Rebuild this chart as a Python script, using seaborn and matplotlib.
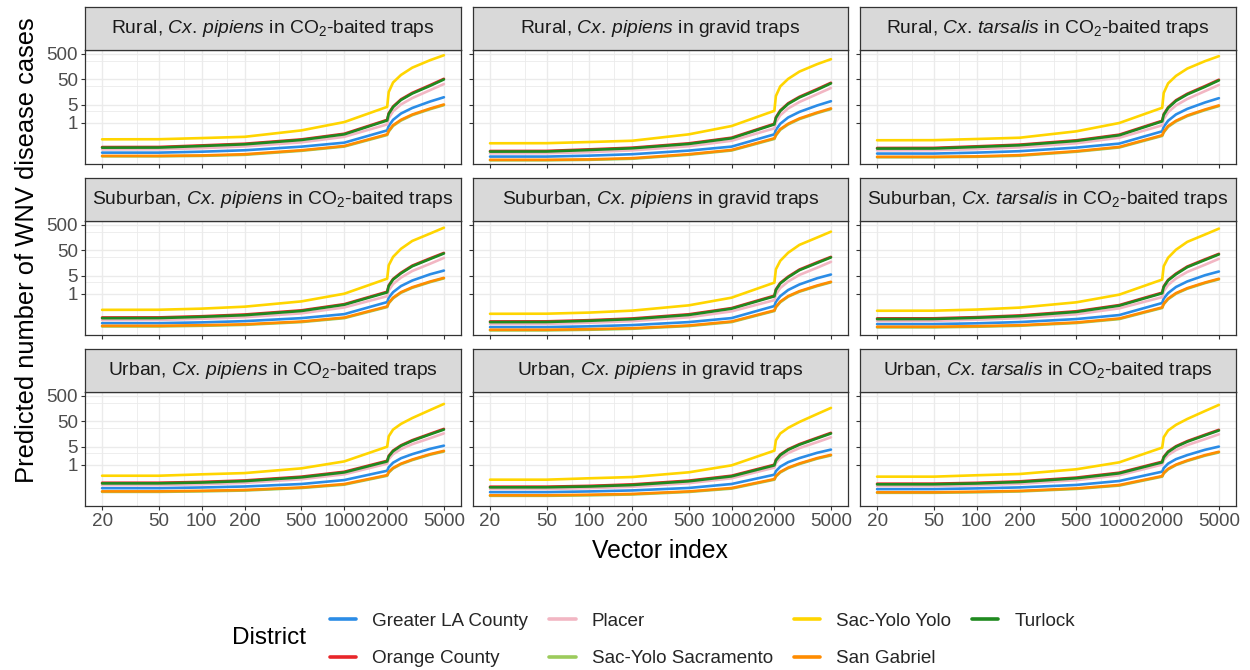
import matplotlib
matplotlib.use("Agg")
import matplotlib.pyplot as plt
import numpy as np
import pandas as pd
import seaborn as sns
from matplotlib.lines import Line2D
from matplotlib.ticker import FixedLocator, NullFormatter, FixedFormatter

# ---------------- data ----------------
X_NODES = [20, 50, 100, 200, 500, 1000, 2000, 2050, 2200, 2500, 3000, 4000, 5000]

DISTRICTS = ["Greater LA County", "Orange County", "Placer", "Sac-Yolo Sacramento",
             "Sac-Yolo Yolo", "San Gabriel", "Turlock"]
COLORS = ["#2B8CE6", "#E8262A", "#F2B6C3", "#9CCB5C", "#FFD500", "#FF8C00", "#1F8A1F"]

LAND_USE = ["Rural", "Suburban", "Urban"]
TRAP_LABELS = [r"$\mathit{Cx.\,pipiens}$ in CO$_2$-baited traps",
               r"$\mathit{Cx.\,pipiens}$ in gravid traps",
               r"$\mathit{Cx.\,tarsalis}$ in CO$_2$-baited traps"]
COLUMN_FACTOR = [1.00, 0.70, 0.92]

# Rural
RURAL_GLA = [0.067, 0.067, 0.073, 0.083, 0.115, 0.165, 0.50, 0.75, 1.3, 2.3, 3.8, 6.8, 10.0]
RURAL_OC = [0.111, 0.112, 0.129, 0.150, 0.222, 0.37, 1.30, 2.35, 4.35, 8.3, 14.9, 30.0, 53.0]
RURAL_PLA = [0.090, 0.091, 0.100, 0.118, 0.170, 0.28, 0.86, 1.5, 2.8, 5.2, 9.3, 19.0, 33.0]
RURAL_SYS = [0.048, 0.048, 0.050, 0.055, 0.079, 0.116, 0.33, 0.45, 0.75, 1.22, 1.98, 3.4, 4.9]
RURAL_SYY = [0.223, 0.225, 0.25, 0.28, 0.50, 1.06, 4.2, 16, 38, 75, 145, 285, 445]
RURAL_SG = [0.050, 0.050, 0.052, 0.058, 0.083, 0.122, 0.35, 0.48, 0.80, 1.30, 2.1, 3.6, 5.2]
RURAL_TUR = [0.105, 0.106, 0.122, 0.142, 0.21, 0.35, 1.23, 2.2, 4.1, 7.8, 14.0, 28.0, 50.0]

# Suburban
SUB_GLA = [0.070, 0.070, 0.075, 0.084, 0.110, 0.158, 0.47, 0.70, 1.15, 2.0, 3.3, 5.8, 8.1]
SUB_OC = [0.117, 0.118, 0.131, 0.153, 0.223, 0.39, 1.20, 2.12, 3.8, 6.7, 12.7, 24.5, 40.0]
SUB_PLA = [0.093, 0.094, 0.104, 0.120, 0.170, 0.29, 0.80, 1.35, 2.4, 4.3, 7.8, 15.0, 25.5]
SUB_SYS = [0.052, 0.052, 0.055, 0.060, 0.077, 0.110, 0.30, 0.42, 0.66, 1.09, 1.71, 2.85, 4.0]
SUB_SYY = [0.233, 0.235, 0.26, 0.31, 0.50, 1.00, 3.9, 13, 28, 58, 118, 230, 390]
SUB_SG = [0.055, 0.055, 0.058, 0.063, 0.081, 0.116, 0.316, 0.44, 0.70, 1.15, 1.8, 3.0, 4.2]
SUB_TUR = [0.110, 0.111, 0.124, 0.144, 0.21, 0.37, 1.13, 2.0, 3.6, 6.3, 12.0, 23.0, 38.0]

# Urban
URB_GLA = [0.120, 0.120, 0.128, 0.140, 0.175, 0.25, 0.58, 0.80, 1.2, 1.8, 2.6, 4.2, 5.6]
URB_OC = [0.196, 0.197, 0.212, 0.242, 0.34, 0.53, 1.43, 2.23, 3.6, 5.8, 9.2, 16.4, 25.5]
URB_PLA = [0.160, 0.160, 0.172, 0.195, 0.27, 0.42, 1.10, 1.65, 2.6, 4.1, 6.4, 11.0, 17.0]
URB_SYS = [0.086, 0.086, 0.090, 0.097, 0.122, 0.165, 0.37, 0.49, 0.71, 1.05, 1.52, 2.47, 3.3]
URB_SYY = [0.37, 0.37, 0.42, 0.47, 0.72, 1.35, 5.1, 13, 24, 40, 68, 140, 243]
URB_SG = [0.090, 0.090, 0.095, 0.102, 0.128, 0.174, 0.39, 0.52, 0.75, 1.1, 1.6, 2.6, 3.5]
URB_TUR = [0.185, 0.186, 0.200, 0.228, 0.32, 0.50, 1.35, 2.1, 3.4, 5.5, 8.7, 15.5, 24.0]

X_TICKS = [20, 50, 100, 200, 500, 1000, 2000, 5000]
X_MINOR = [35, 75, 150, 350, 750, 1500, 3500]
Y_TICKS = [1, 5, 50, 500]
Y_MINOR = [3, 27.5, 275]

BASE = {
    "Rural": [RURAL_GLA, RURAL_OC, RURAL_PLA, RURAL_SYS, RURAL_SYY, RURAL_SG, RURAL_TUR],
    "Suburban": [SUB_GLA, SUB_OC, SUB_PLA, SUB_SYS, SUB_SYY, SUB_SG, SUB_TUR],
    "Urban": [URB_GLA, URB_OC, URB_PLA, URB_SYS, URB_SYY, URB_SG, URB_TUR],
}

records = []
for land in LAND_USE:
    for ci in range(3):
        for d, vals in zip(DISTRICTS, BASE[land]):
            for x, v in zip(X_NODES, vals):
                records.append({"land": land, "col": ci, "District": d,
                                "x": x, "y": v * COLUMN_FACTOR[ci]})
df = pd.DataFrame(records)

# ---------------- style ----------------
sns.set_theme(style="white")
plt.rcParams["font.family"] = ["Liberation Sans", "DejaVu Sans"]
plt.rcParams["mathtext.fontset"] = "custom"
plt.rcParams["mathtext.rm"] = "Liberation Sans"
plt.rcParams["mathtext.it"] = "Liberation Sans:italic"
plt.rcParams["mathtext.bf"] = "Liberation Sans:bold"

W, H = 1250, 670
fig = plt.figure(figsize=(W / 100, H / 100), dpi=100)
fig.patch.set_facecolor("white")

COL_X = [(85, 461), (473, 848), (860, 1236)]
ROW_Y = [(7, 50, 164), (178, 221, 335), (349, 392, 506)]


def frac(x0, y0, x1, y1):
    return [x0 / W, 1 - y1 / H, (x1 - x0) / W, (y1 - y0) / H]


palette = dict(zip(DISTRICTS, COLORS))
XLIM = (15.18, 6590)
YLIM = (0.024, 715)

for ri, land in enumerate(LAND_USE):
    s0, p0, p1 = ROW_Y[ri]
    for ci in range(3):
        x0, x1 = COL_X[ci]
        ax = fig.add_axes(frac(x0, p0, x1, p1))
        ax.set_xscale("log")
        ax.set_yscale("log")
        sub = df[(df["land"] == land) & (df["col"] == ci)]
        sns.lineplot(data=sub, x="x", y="y", hue="District", hue_order=DISTRICTS,
                     palette=palette, estimator=None, sort=True, linewidth=1.9,
                     legend=False, ax=ax)
        ax.set_xlim(*XLIM)
        ax.set_ylim(*YLIM)
        ax.set_facecolor("white")
        ax.xaxis.set_major_locator(FixedLocator(X_TICKS))
        ax.xaxis.set_minor_locator(FixedLocator(X_MINOR))
        ax.yaxis.set_major_locator(FixedLocator(Y_TICKS))
        ax.yaxis.set_minor_locator(FixedLocator(Y_MINOR))
        ax.xaxis.set_minor_formatter(NullFormatter())
        ax.yaxis.set_minor_formatter(NullFormatter())
        if ri == 2:
            ax.xaxis.set_major_formatter(FixedFormatter([str(t) for t in X_TICKS]))
        else:
            ax.xaxis.set_major_formatter(NullFormatter())
        if ci == 0:
            ax.yaxis.set_major_formatter(FixedFormatter([str(t) for t in Y_TICKS]))
        else:
            ax.yaxis.set_major_formatter(NullFormatter())
        ax.grid(which="major", color="#EBEBEB", linewidth=1.0)
        ax.grid(which="minor", color="#EBEBEB", linewidth=0.6)
        ax.set_axisbelow(True)
        ax.tick_params(which="major", direction="out", length=3, width=0.8,
                       color="#333333", labelcolor="#4D4D4D", labelsize=13.6, pad=2,
                       bottom=True, left=True)
        ax.tick_params(which="minor", length=0)
        for sp in ax.spines.values():
            sp.set_color("#333333")
            sp.set_linewidth(0.9)
        ax.set_xlabel("")
        ax.set_ylabel("")

        sax = fig.add_axes(frac(x0, s0, x1, p0))
        sax.set_facecolor("#D9D9D9")
        sax.set_xticks([])
        sax.set_yticks([])
        for sp in sax.spines.values():
            sp.set_color("#333333")
            sp.set_linewidth(0.9)
        sax.text(0.5, 0.5, f"{land}, " + TRAP_LABELS[ci], ha="center", va="center",
                 fontsize=13.9, color="#1A1A1A", transform=sax.transAxes)

fig.text(27 / W, 1 - 250 / H, "Predicted number of WNV disease cases", rotation=90,
         ha="center", va="center", fontsize=18.4, color="black")
fig.text(660 / W, 1 - 551 / H, "Vector index", ha="center", va="center",
         fontsize=17.8, color="black")

fig.text(232 / W, 1 - 638 / H, "District", ha="left", va="center", fontsize=17.5,
         color="black")
handles = [Line2D([0], [0], color=c, lw=2.6) for c in COLORS]
fig.legend(handles, DISTRICTS, ncol=4, loc="center left",
           bbox_to_anchor=(330 / W, 1 - 640 / H), frameon=False, fontsize=13.6,
           handlelength=1.4, handletextpad=0.85, columnspacing=1.1,
           labelspacing=1.08, borderpad=0, borderaxespad=0)

fig.savefig("out.png", dpi=100, facecolor="white")
